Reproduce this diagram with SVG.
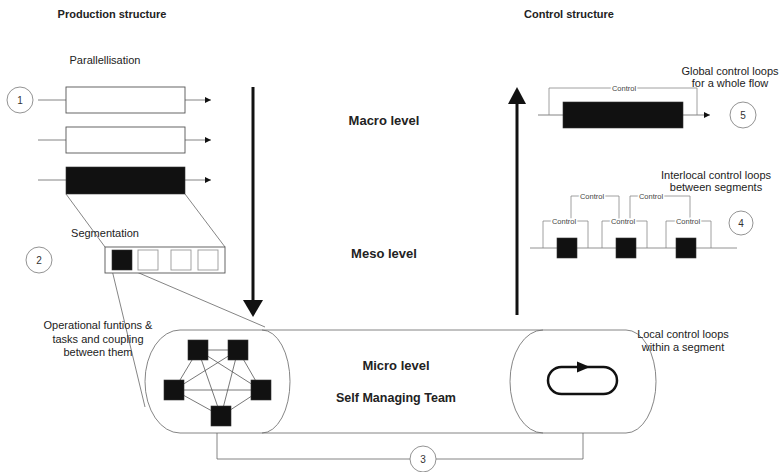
<svg xmlns="http://www.w3.org/2000/svg" width="780" height="472" viewBox="0 0 780 472">
<defs>
<style>
.ln{stroke:#666;stroke-width:0.8;fill:none}
.bx{stroke:#555;stroke-width:0.9;fill:#fff}
.blk{fill:#111;stroke:#333;stroke-width:0.6}
.t{font-family:"Liberation Sans",Arial,sans-serif;fill:#222;font-size:11px;text-anchor:middle}
.b{font-weight:bold}
.c{font-family:"Liberation Sans",Arial,sans-serif;fill:#444;font-size:7.5px;text-anchor:middle;stroke:#fff;stroke-width:3;paint-order:stroke}
.circ{fill:#fff;stroke:#777;stroke-width:0.8}
.num{font-family:"Liberation Sans",Arial,sans-serif;fill:#333;font-size:10px;text-anchor:middle}
</style>
<marker id="ah" viewBox="0 0 6 6" refX="6" refY="3" markerWidth="6" markerHeight="6" markerUnits="userSpaceOnUse" orient="auto">
<path d="M0,0 L6,3 L0,6 z" fill="#111"/>
</marker>
</defs>
<rect width="780" height="472" fill="#fff"/>

<g id="titles">
<text class="t b" x="112" y="18">Production structure</text>
<text class="t b" x="569" y="18">Control structure</text>
<text class="t" x="105" y="64">Parallellisation</text>
<text class="t" x="105" y="237">Segmentation</text>
<text class="t b" x="384" y="125" style="font-size:13px">Macro level</text>
<text class="t b" x="384" y="258" style="font-size:13px">Meso level</text>
<text class="t b" x="396" y="370" style="font-size:13px">Micro level</text>
<text class="t b" x="396" y="402" style="font-size:12.5px">Self Managing Team</text>
</g>

<g id="connectors">
<!-- parallel flows -->
<line class="ln" x1="38" y1="100" x2="66" y2="100"/>
<line class="ln" x1="185" y1="100" x2="211" y2="100" marker-end="url(#ah)"/>
<line class="ln" x1="38" y1="140" x2="66" y2="140"/>
<line class="ln" x1="185" y1="140" x2="211" y2="140" marker-end="url(#ah)"/>
<line class="ln" x1="38" y1="180" x2="66" y2="180"/>
<line class="ln" x1="185" y1="180" x2="211" y2="180" marker-end="url(#ah)"/>
<!-- zoom lines -->
<line class="ln" x1="66" y1="194" x2="105" y2="247"/>
<line class="ln" x1="185" y1="194" x2="225" y2="247"/>
<line class="ln" x1="112" y1="270" x2="145" y2="407"/>
<line class="ln" x1="132" y1="270" x2="265" y2="327"/>
<!-- connector 3 -->
<path class="ln" d="M217,433 V459 H410"/>
<path class="ln" d="M436,459 H583 V433"/>
<!-- big arrows -->
<line x1="253" y1="87" x2="253" y2="302" stroke="#111" stroke-width="3"/>
<polygon points="243,300 263,300 253,317" fill="#111"/>
<line x1="517" y1="315" x2="517" y2="102" stroke="#111" stroke-width="3"/>
<polygon points="508,104 526,104 517,87" fill="#111"/>
</g>

<g id="circle1"><circle class="circ" cx="20" cy="100" r="13"/><text class="num" x="20" y="104">1</text></g>
<g id="circle2"><circle class="circ" cx="39" cy="260" r="13"/><text class="num" x="39" y="264">2</text></g>
<g id="circle3"><circle class="circ" cx="423" cy="459" r="13"/><text class="num" x="423" y="463">3</text></g>
<g id="circle4"><circle class="circ" cx="741" cy="223" r="12"/><text class="num" x="741" y="227">4</text></g>
<g id="circle5"><circle class="circ" cx="743" cy="115" r="13"/><text class="num" x="743" y="119">5</text></g>

<g id="parallel-flows">
<rect class="bx" x="66" y="87" width="119" height="26"/>
<rect class="bx" x="66" y="127" width="119" height="26"/>
<rect class="blk" x="66" y="167" width="119" height="27"/>
</g>

<g id="segmentation">
<rect class="bx" x="105" y="247" width="120" height="26"/>
<rect class="blk" x="112" y="250" width="20" height="20"/>
<rect class="bx" x="138" y="250" width="20" height="20" style="stroke:#999"/>
<rect class="bx" x="171" y="250" width="20" height="20" style="stroke:#999"/>
<rect class="bx" x="198" y="250" width="20" height="20" style="stroke:#999"/>
</g>

<g id="operational-label">
<text class="t" x="98" y="329">Operational funtions &amp;</text>
<text class="t" x="98" y="342.5">tasks and coupling</text>
<text class="t" x="98" y="356">between them</text>
</g>

<g id="micro-band">
<path class="ln" d="M180,330 H626 A30,51.5 0 0 1 656,381.5 A30,51.5 0 0 1 626,433 H180 A35,51.5 0 0 1 145,381.5 A35,51.5 0 0 1 180,330 Z"/>
<path class="ln" d="M262,330 A28,51.5 0 0 1 262,433"/>
<path class="ln" d="M543,330 A33,51.5 0 0 0 543,433"/>
</g>

<g id="team-network">
<g class="ln" style="stroke:#555">
<line x1="198" y1="350" x2="238" y2="350"/>
<line x1="198" y1="350" x2="174" y2="390"/>
<line x1="198" y1="350" x2="261" y2="390"/>
<line x1="198" y1="350" x2="221" y2="416"/>
<line x1="238" y1="350" x2="174" y2="390"/>
<line x1="238" y1="350" x2="261" y2="390"/>
<line x1="238" y1="350" x2="221" y2="416"/>
<line x1="174" y1="390" x2="261" y2="390"/>
<line x1="174" y1="390" x2="221" y2="416"/>
<line x1="261" y1="390" x2="221" y2="416"/>
</g>
<rect class="blk" x="188" y="340" width="20" height="20"/>
<rect class="blk" x="228" y="340" width="20" height="20"/>
<rect class="blk" x="164" y="380" width="20" height="20"/>
<rect class="blk" x="251" y="380" width="20" height="20"/>
<rect class="blk" x="211" y="406" width="20" height="20"/>
</g>

<g id="local-loop">
<rect x="548" y="367" width="69" height="27" rx="13.5" fill="none" stroke="#111" stroke-width="2.5"/>
<polygon points="577,361.5 590,367 577,372.5" fill="#111"/>
<text class="t" x="683" y="338">Local control loops</text>
<text class="t" x="683" y="351">within a segment</text>
</g>

<g id="global-loop">
<line class="ln" x1="538" y1="115" x2="563" y2="115"/>
<line class="ln" x1="683" y1="115" x2="710" y2="115" marker-end="url(#ah)"/>
<rect class="blk" x="563" y="102" width="120" height="26"/>
<path class="ln" d="M549,115 V88 H697 V115" style="stroke:#888"/>
<text class="c" x="624" y="90.5">Control</text>
<text class="t" x="730" y="75">Global control loops</text>
<text class="t" x="730" y="87">for a whole flow</text>
</g>

<g id="interlocal-loops">
<line class="ln" x1="530" y1="248" x2="737" y2="248" style="stroke:#777"/>
<g class="ln" style="stroke:#888">
<path d="M543,248 V221 H588 V248"/>
<path d="M602,248 V221 H647 V248"/>
<path d="M666,248 V221 H711 V248"/>
<path d="M571,221 V196 H619 V221"/>
<path d="M630,221 V196 H690 V221"/>
</g>
<rect class="blk" x="557" y="238" width="20" height="20"/>
<rect class="blk" x="616" y="238" width="20" height="20"/>
<rect class="blk" x="676" y="238" width="20" height="20"/>
<text class="c" x="564" y="223.5">Control</text>
<text class="c" x="623" y="223.5">Control</text>
<text class="c" x="688" y="223.5">Control</text>
<text class="c" x="592" y="198.5">Control</text>
<text class="c" x="651" y="198.5">Control</text>
<text class="t" x="716" y="179">Interlocal control loops</text>
<text class="t" x="716" y="191">between segments</text>
</g>
</svg>
